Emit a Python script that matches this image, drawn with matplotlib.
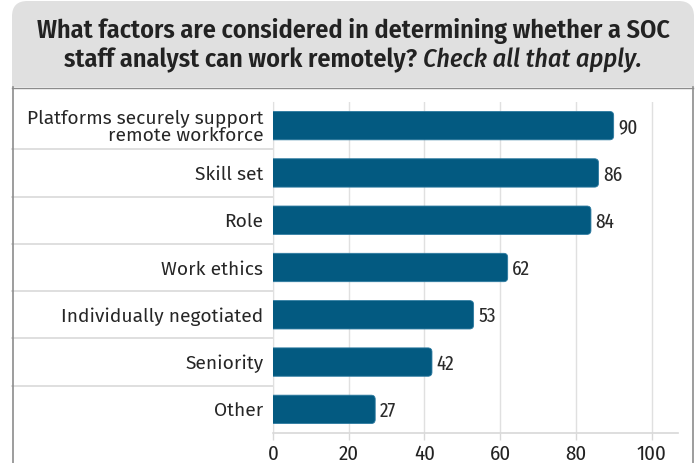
import matplotlib
matplotlib.use("Agg")
import matplotlib.pyplot as plt
from matplotlib.patches import FancyBboxPatch, Rectangle
from matplotlib import font_manager

categories = ["Platforms securely support\nremote workforce", "Skill set", "Role",
              "Work ethics", "Individually negotiated", "Seniority", "Other"]
values = [90, 86, 84, 62, 53, 42, 27]
xticks = [0, 20, 40, 60, 80, 100]

avail = {f.name for f in font_manager.fontManager.ttflist}
def pick(*names):
    for n in names:
        if n in avail:
            return n
    return "DejaVu Sans"

F_REG = pick("Fira Sans", "Noto Sans", "Open Sans")
F_COND = pick("Fira Sans Condensed", "Liberation Sans Narrow", "Roboto Condensed", "Roboto")
F_XCOND = pick("Fira Sans Extra Condensed", "Fira Sans Condensed", "Roboto Condensed", "Roboto")
F_TITLE = pick("Fira Sans Condensed", "Liberation Sans Narrow", "Roboto Condensed", "Open Sans")

W, H = 699, 463
fig = plt.figure(figsize=(W / 100, H / 100), dpi=100)
fig.patch.set_facecolor("white")

def fx(px):
    return px / W
def fy(py):
    return 1 - py / H

# header box (rounded top, square bottom)
hdr = FancyBboxPatch((fx(12), fy(60)), fx(694) - fx(12), fy(1) - fy(60),
                     boxstyle="round,pad=0,rounding_size=0.022",
                     transform=fig.transFigure, facecolor="#e0e0e0",
                     edgecolor="none", zorder=0, mutation_aspect=W / H)
fig.patches.append(hdr)
fig.patches.append(Rectangle((fx(12), fy(87)), fx(694) - fx(12), fy(40) - fy(87),
                             transform=fig.transFigure, facecolor="#e0e0e0",
                             edgecolor="none", zorder=0))
# panel borders
border = "#8c8c8c"
fig.add_artist(plt.Line2D([fx(12.5), fx(12.5)], [fy(87), fy(463)], color=border, lw=1.2, transform=fig.transFigure))
fig.add_artist(plt.Line2D([fx(693), fx(693)], [fy(87), fy(463)], color=border, lw=1.2, transform=fig.transFigure))
fig.add_artist(plt.Line2D([fx(12), fx(693)], [fy(87.5), fy(87.5)], color=border, lw=1.0, transform=fig.transFigure))

ax = fig.add_axes([fx(273), fy(433), fx(678) - fx(273), fy(102) - fy(433)])
ax.set_facecolor("none")
n = len(categories)
ypos = list(range(n))
ax.set_ylim(n - 0.5, -0.5)
ax.set_xlim(0, 107)

bar_color = "#035a81"
bh = 0.6
px_x = 1 / 3.78
px_y = 1 / 47.3
for y, v in zip(ypos, values):
    p = FancyBboxPatch((-2, y - bh / 2), v + 2, bh,
                       boxstyle="round,pad=0,rounding_size=%f" % (4 * px_x),
                       mutation_aspect=px_y / px_x,
                       facecolor=bar_color, edgecolor="#2d7aa0", lw=0.6, zorder=3)
    ax.add_patch(p)
    ax.text(v + 1.2, y + 0.04, str(v), va="center", ha="left", fontsize=15,
            family=F_XCOND, fontweight="normal", color="#2a2a2a", zorder=4)

ax.set_xticks(xticks)
ax.set_xticklabels([str(t) for t in xticks], family=F_COND, fontsize=15, color="#222222")
ax.tick_params(axis="x", length=5, width=1, color="#d8d8d8", pad=3)
ax.set_yticks(ypos)
ax.set_yticklabels(categories, family=F_REG, fontsize=13.8, color="#262626", linespacing=0.98)
ax.tick_params(axis="y", length=0, pad=7)
for t in ax.get_yticklabels():
    t.set_multialignment("right")

ax.grid(axis="x", color="#e0e0e0", lw=1, zorder=0)
ax.set_axisbelow(True)
for s in ["top", "right"]:
    ax.spines[s].set_visible(False)
ax.spines["left"].set_color("#e0e0e0")
ax.spines["bottom"].set_color("#d8d8d8")
ax.spines["bottom"].set_linewidth(1.2)

for k in range(n - 1):
    ax.axhline(k + 0.5, xmin=(12 - 273) / (678 - 273), xmax=0, color="#dcdcdc",
               lw=1.3, clip_on=False, zorder=1)

# title
tsize = 18.8
fig.text(0.5 * (fx(12) + fx(694)), fy(31), "What factors are considered in determining whether a SOC",
         ha="center", va="center", fontsize=tsize, fontweight="semibold", family=F_TITLE, color="#222222")
fig.canvas.draw()
r = fig.canvas.get_renderer()
t1 = fig.text(0, fy(60), "staff analyst can work remotely? ", ha="left", va="center",
              fontsize=tsize, fontweight="semibold", family=F_TITLE, color="#222222")
t2 = fig.text(0, fy(60), "Check all that apply.", ha="left", va="center",
              fontsize=tsize, style="italic", fontweight="medium", family=F_TITLE, color="#222222")
w1 = t1.get_window_extent(r).width
w2 = t2.get_window_extent(r).width
cx = 0.5 * (12 + 694)
start = cx - (w1 + w2) / 2
t1.set_x(start / W)
t2.set_x((start + w1) / W)

fig.savefig("out.png", dpi=100)
